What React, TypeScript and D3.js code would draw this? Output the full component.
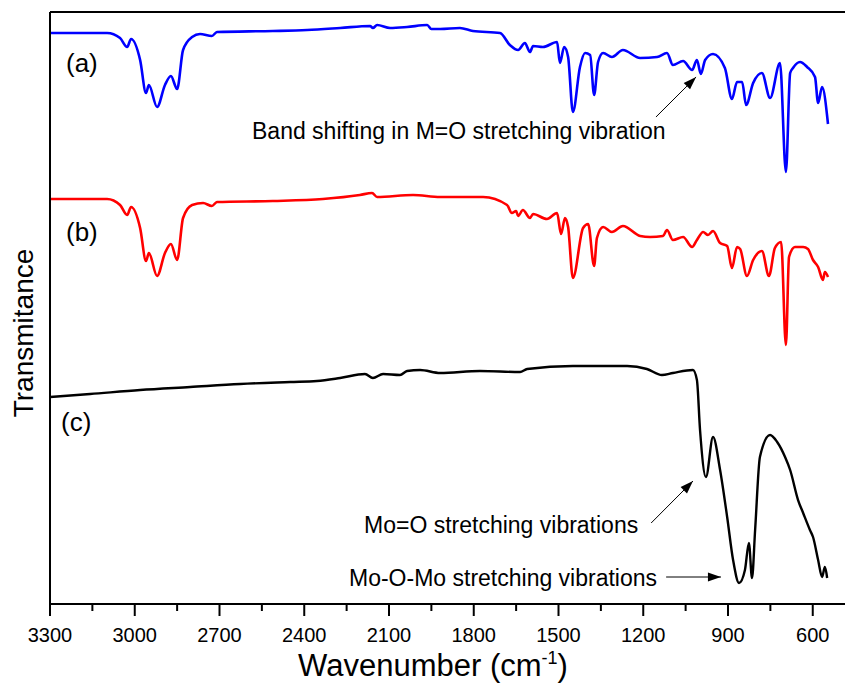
import React from "react";
import * as d3 from "d3";

// Wavenumber (cm-1), transmittance (arbitrary, offset units)
const spectrumA: [number, number][] = [
  [3300, 571], [3098, 571], [3052, 566], [3027, 557], [3013, 565], [2981, 544], [2960, 511], [2950, 519],
  [2921, 497], [2893, 519], [2872, 528], [2850, 515], [2829, 554], [2797, 567], [2769, 570], [2727, 568],
  [2709, 572], [2511, 573], [2390, 574], [2273, 576], [2167, 578], [2157, 576], [2142, 579], [2096, 576],
  [2036, 577], [1965, 579], [1950, 575], [1919, 575], [1849, 576], [1803, 573], [1707, 571], [1672, 559],
  [1643, 554], [1619, 561], [1601, 552], [1590, 558], [1555, 557], [1505, 562], [1495, 541], [1480, 557],
  [1466, 547], [1449, 492], [1424, 537], [1406, 551], [1388, 549], [1374, 509], [1360, 542], [1342, 551],
  [1311, 547], [1272, 554], [1211, 546], [1151, 547], [1116, 551], [1095, 539], [1059, 543], [1027, 534],
  [1010, 544], [996, 530], [981, 544], [953, 550], [911, 536], [886, 505], [868, 522], [850, 522],
  [836, 499], [811, 521], [780, 531], [751, 506], [716, 541], [695, 432], [680, 531], [670, 536],
  [645, 542], [620, 537], [592, 527], [581, 501], [567, 517], [546, 480],
];

const spectrumB: [number, number][] = [
  [3300, 405], [3098, 405], [3052, 399], [3027, 389], [3013, 397], [2981, 376], [2960, 343], [2950, 351],
  [2921, 328], [2893, 351], [2872, 360], [2850, 344], [2829, 386], [2797, 399], [2758, 401], [2727, 398],
  [2709, 402], [2511, 403], [2334, 405], [2203, 409], [2160, 411], [2142, 407], [2015, 409], [1919, 407],
  [1767, 407], [1682, 399], [1665, 391], [1650, 393], [1643, 388], [1626, 394], [1601, 386], [1590, 390],
  [1541, 385], [1505, 391], [1491, 370], [1477, 386], [1466, 377], [1449, 326], [1413, 376], [1395, 380],
  [1374, 338], [1364, 366], [1342, 377], [1311, 372], [1272, 378], [1211, 368], [1176, 367], [1130, 368],
  [1116, 374], [1095, 364], [1059, 367], [1027, 357], [1010, 364], [988, 372], [971, 369], [953, 373],
  [928, 361], [903, 358], [886, 336], [868, 357], [857, 355], [833, 328], [811, 344], [780, 353],
  [755, 328], [734, 356], [712, 362], [695, 259], [684, 347], [663, 357], [634, 357], [617, 355],
  [599, 344], [581, 337], [564, 324], [557, 332], [546, 327],
];

const spectrumC: [number, number][] = [
  [3300, 207], [3158, 210], [2981, 214], [2804, 217], [2627, 220], [2450, 222], [2355, 223], [2273, 226],
  [2185, 230], [2157, 226], [2121, 230], [2061, 229], [2036, 233], [1990, 234], [1919, 231], [1778, 233],
  [1636, 232], [1611, 235], [1449, 238], [1257, 238], [1187, 235], [1134, 229], [1095, 231], [1024, 234],
  [1010, 224], [999, 174], [978, 127], [953, 167], [928, 134], [903, 87], [882, 44], [861, 21],
  [840, 34], [826, 61], [815, 26], [804, 74], [787, 147], [751, 169], [726, 162], [698, 147],
  [680, 134], [652, 104], [634, 91], [610, 74], [599, 67], [581, 44], [567, 27], [557, 37], [549, 26],
];

const seriesColors = ["#0000ff", "#ff0000", "#000000"];
const seriesLabels = ["(a)", "(b)", "(c)"];
const majorTicks = [3300, 3000, 2700, 2400, 2100, 1800, 1500, 1200, 900, 600];
const minorTicks = [3150, 2850, 2550, 2250, 1950, 1650, 1350, 1050, 750];

const annotations = [
  { text: "Band shifting in M=O stretching vibration", from: [1155, 487], to: [1013, 527] },
  { text: "Mo=O stretching vibrations", from: [1172, 81], to: [1024, 123] },
  { text: "Mo-O-Mo stretching vibrations", from: [1119, 27], to: [925, 27] },
];

const FONT = "Arial, 'Liberation Sans', Helvetica, sans-serif";

export default function App() {
  const W = 845;
  const H = 686;
  const left = 50;
  const top = 12;
  const bottom = 604;
  const x = d3.scaleLinear().domain([3300, 600]).range([left, 812.75]);
  const y = d3.scaleLinear().domain([0, 592]).range([bottom, top]);
  const line = d3
    .line<[number, number]>()
    .x((d) => x(d[0]))
    .y((d) => y(d[1]))
    .curve(d3.curveMonotoneX);

  const series = [spectrumA, spectrumB, spectrumC];
  const labelPos = [
    { x: 66, y: 72 },
    { x: 66, y: 241 },
    { x: 61, y: 431 },
  ];
  const textPos = [
    { x: 252, y: 139 },
    { x: 364, y: 533 },
    { x: 349, y: 586 },
  ];

  const arrowHead = (fx: number, fy: number, tx: number, ty: number) => {
    const ang = Math.atan2(ty - fy, tx - fx);
    const len = 13;
    const half = 4.5;
    const bx = tx - len * Math.cos(ang);
    const by = ty - len * Math.sin(ang);
    const px = -Math.sin(ang) * half;
    const py = Math.cos(ang) * half;
    return `M${tx},${ty}L${bx + px},${by + py}L${bx - px},${by - py}Z`;
  };

  return (
    <svg
      width={W}
      height={H}
      style={{ position: "absolute", left: 0, top: 0, background: "#fff" }}
      fontFamily={FONT}
    >
      <rect x={0} y={0} width={W} height={H} fill="#fff" />
      {series.map((s, i) => (
        <path
          key={i}
          d={line(s) || ""}
          fill="none"
          stroke={seriesColors[i]}
          strokeWidth={i === 2 ? 2.4 : 2.6}
          strokeLinejoin="round"
        />
      ))}
      {/* frame */}
      <line x1={left} x2={W + 2} y1={top} y2={top} stroke="#000" strokeWidth={2} />
      <line x1={left} x2={left} y1={top} y2={bottom} stroke="#000" strokeWidth={2} />
      <line x1={left - 1} x2={W + 2} y1={bottom} y2={bottom} stroke="#000" strokeWidth={2} />
      {majorTicks.map((t) => (
        <g key={t}>
          <line x1={x(t)} x2={x(t)} y1={bottom} y2={bottom + 12} stroke="#000" strokeWidth={2} />
          <text x={x(t)} y={642} fontSize={20} textAnchor="middle" fill="#000">
            {t}
          </text>
        </g>
      ))}
      {minorTicks.map((t) => (
        <line key={t} x1={x(t)} x2={x(t)} y1={bottom} y2={bottom + 7} stroke="#000" strokeWidth={2} />
      ))}
      <text x={433} y={676} fontSize={31} textAnchor="middle" fill="#000">
        Wavenumber (cm
        <tspan dy={-12} fontSize={18}>
          -1
        </tspan>
        <tspan dy={12}>)</tspan>
      </text>
      <text
        transform={`translate(33,333) rotate(-90)`}
        fontSize={28}
        textAnchor="middle"
        fill="#000"
      >
        Transmitance
      </text>
      {seriesLabels.map((l, i) => (
        <text key={l} x={labelPos[i].x} y={labelPos[i].y} fontSize={26} fill="#000">
          {l}
        </text>
      ))}
      {annotations.map((a, i) => {
        const fx = x(a.from[0]);
        const fy = y(a.from[1]);
        const tx = x(a.to[0]);
        const ty = y(a.to[1]);
        return (
          <g key={i}>
            <text x={textPos[i].x} y={textPos[i].y} fontSize={23} fill="#000">
              {a.text}
            </text>
            <line x1={fx} y1={fy} x2={tx} y2={ty} stroke="#000" strokeWidth={1} />
            <path d={arrowHead(fx, fy, tx, ty)} fill="#000" />
          </g>
        );
      })}
    </svg>
  );
}
